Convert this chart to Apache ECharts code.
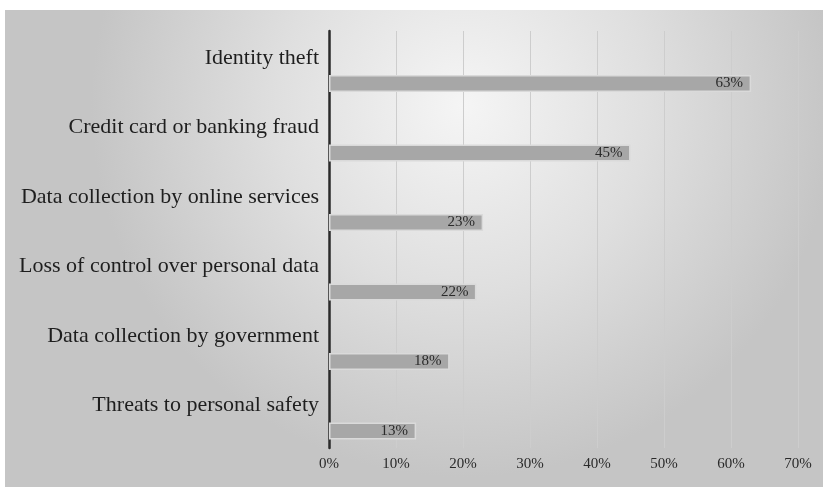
<!DOCTYPE html>
<html>
<head>
<meta charset="utf-8">
<script src="https://cdn.jsdelivr.net/npm/echarts@6/dist/echarts.min.js"></script>
<style>
  html, body { margin: 0; padding: 0; background: #ffffff; }
  #chart { width: 823px; height: 487px; }
</style>
</head>
<body>
<div id="chart"></div>
<script>
// Share of respondents worried about each privacy risk (percent)
const categories = [
  'Identity theft',
  'Credit card or banking fraud',
  'Data collection by online services',
  'Loss of control over personal data',
  'Data collection by government',
  'Threats to personal safety'
];
const values = [63, 45, 23, 22, 18, 13];
const tickLabels = ['0%', '10%', '20%', '30%', '40%', '50%', '60%', '70%'];

const serif = '"Liberation Serif", "DejaVu Serif", serif';
const chart = echarts.init(document.getElementById('chart'), null, { renderer: 'canvas' });

chart.setOption({
  animation: false,
  backgroundColor: '#ffffff',
  graphic: [{
    type: 'rect',
    z: -10,
    silent: true,
    shape: { x: 5, y: 10, width: 818, height: 477 },
    style: {
      fill: new echarts.graphic.RadialGradient(0.56, 0.2, 0.78, [
        { offset: 0, color: '#f5f5f5' },
        { offset: 0.5, color: '#dfdfdf' },
        { offset: 1, color: '#c5c5c5' }
      ])
    }
  }],
  grid: { left: 329, right: 25, top: 31, bottom: 39, containLabel: false },
  xAxis: {
    type: 'value',
    min: 0,
    max: 70,
    interval: 10,
    axisLine: { show: false },
    axisTick: { show: false },
    splitLine: { lineStyle: { color: '#cdcdcd', width: 1 } },
    axisLabel: {
      formatter: function (v) { return tickLabels[Math.round(v / 10)]; },
      fontFamily: serif,
      fontSize: 15,
      color: '#2a2a2a',
      margin: 9
    }
  },
  yAxis: {
    type: 'category',
    inverse: true,
    data: categories,
    axisTick: { show: false },
    axisLine: { lineStyle: { color: '#2a2a2a', width: 2.5 } },
    axisLabel: {
      fontFamily: serif,
      fontSize: 22,
      color: '#1e1e1e',
      margin: 10,
      verticalAlign: 'bottom',
      lineHeight: 16
    }
  },
  series: [
    {
      // empty slot that pushes each bar below its category label
      type: 'bar',
      silent: true,
      data: categories.map(() => 0),
      barWidth: 17,
      barGap: '108%',
      itemStyle: { color: 'rgba(0,0,0,0)' }
    },
    {
      type: 'bar',
      data: values,
      barWidth: 17,
      itemStyle: {
        color: '#a7a7a7',
        borderColor: '#dadada',
        borderWidth: 1.5
      },
      label: {
        show: true,
        position: 'insideRight',
        distance: 8,
        formatter: '{c}%',
        fontFamily: serif,
        fontSize: 15,
        color: '#2a2a2a'
      }
    }
  ]
});
</script>
</body>
</html>
